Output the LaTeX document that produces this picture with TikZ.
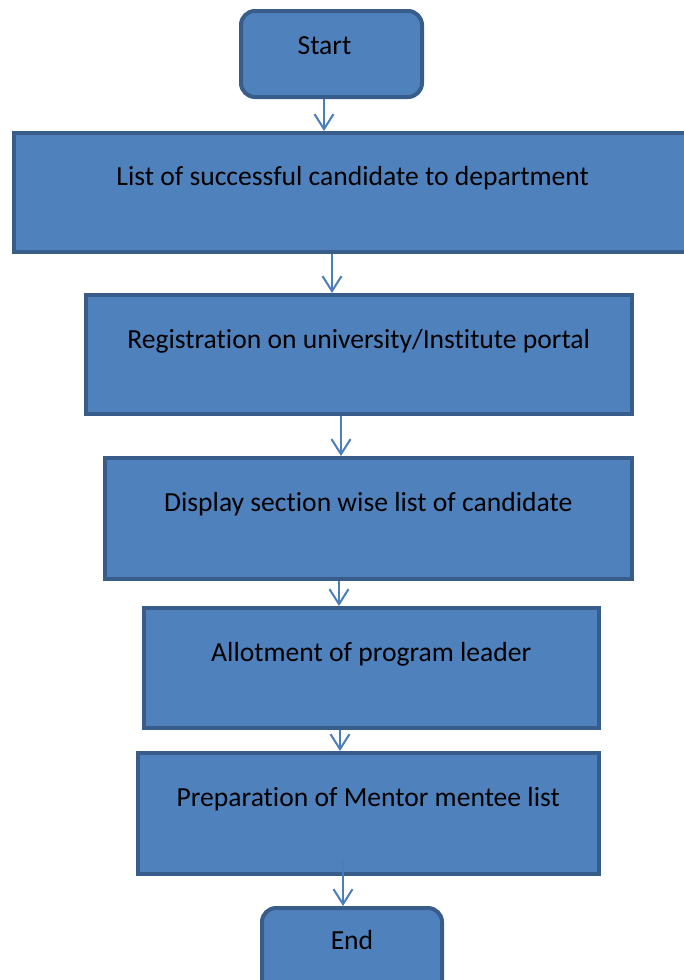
\documentclass[tikz,border=0pt]{standalone}
\usepackage{fontspec}
\setmainfont{Carlito}[Ligatures=NoCommon]
\usetikzlibrary{arrows.meta}
\definecolor{boxfill}{HTML}{4F81BD}
\definecolor{boxline}{HTML}{385D8A}
\definecolor{arrline}{HTML}{4A7EBB}
\tikzset{
  box/.style={rectangle, draw=boxline, fill=boxfill, line width=3.5pt,
    inner xsep=0pt, inner ysep=0pt, anchor=north west, text=black,
    font=\fontsize{27.6}{33}\selectfont},
  term/.style={box, rounded corners=14pt, line width=4pt},
  flow/.style={draw=arrline, line width=2pt,
    -{Straight Barb[length=15pt, width=19pt, line width=2pt]}}
}
\begin{document}
\begin{tikzpicture}[x=1pt, y=-1pt]
\useasboundingbox (0,0) rectangle (684,980);
\clip (0,0) rectangle (684,980);
% boxes
\node[term, minimum width=181pt, text height=43pt, text depth=43pt] (start) at (239,9) {Start\hspace*{14pt}};
\node[box, minimum width=678pt, text height=53pt, text depth=66pt] (b1) at (12,131) {List of successful candidate to department};
\node[box, minimum width=546pt, text height=54pt, text depth=65pt] (b2) at (84,293) {Registration on university/Institute portal};
\node[box, minimum width=527pt, text height=54pt, text depth=67pt] (b3) at (103,456) {Display section wise list of candidate};
\node[box, minimum width=455pt, text height=54pt, text depth=66pt] (b4) at (142,606) {Allotment of program leader};
\node[box, minimum width=461pt, text height=54pt, text depth=67pt] (b5) at (136,751) {Preparation of Mentor mentee list};
\node[term, minimum width=180pt, text height=41pt, text depth=45pt] (end) at (260,906) {End};
% connector columns
\coordinate (c1) at (324,0);
\coordinate (c2) at (332,0);
\coordinate (c3) at (341,0);
\coordinate (c4) at (339,0);
\coordinate (c5) at (340,0);
\coordinate (s6) at (343,859);
% connectors
\draw[flow] (start.south -| c1) -- (b1.north -| c1);
\draw[flow] (b1.south -| c2) -- (b2.north -| c2);
\draw[flow] (b2.south -| c3) -- (b3.north -| c3);
\draw[flow] (b3.south -| c4) -- (b4.north -| c4);
\draw[flow] (b4.south -| c5) -- (b5.north -| c5);
\draw[flow] (s6) -- (end.north -| s6);
\end{tikzpicture}
\end{document}
